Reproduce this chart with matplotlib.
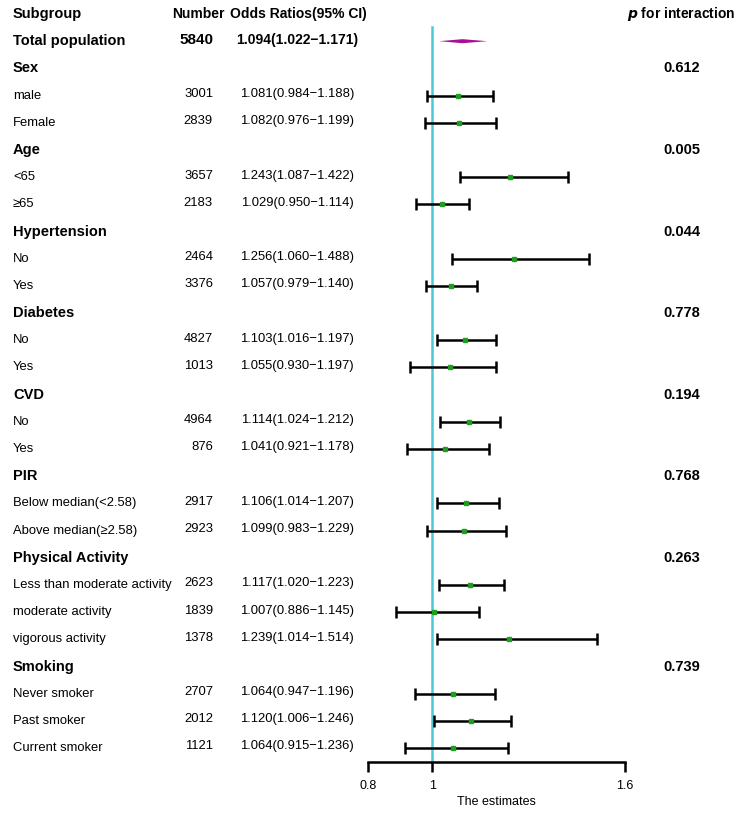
import matplotlib.pyplot as plt
import matplotlib.transforms as mtransforms
import numpy as np

plt.rcParams['font.family'] = ['Liberation Sans', 'DejaVu Sans']

# rows of the table (headers have n = None)
labels = ["Total population", "Sex", "male", "Female", "Age", "<65", "\u226565",
          "Hypertension", "No", "Yes", "Diabetes", "No", "Yes", "CVD", "No", "Yes",
          "PIR", "Below median(<2.58)", "Above median(\u22652.58)",
          "Physical Activity", "Less than moderate activity", "moderate activity",
          "vigorous activity", "Smoking", "Never smoker", "Past smoker", "Current smoker"]
n = [5840, None, 3001, 2839, None, 3657, 2183, None, 2464, 3376, None, 4827, 1013,
     None, 4964, 876, None, 2917, 2923, None, 2623, 1839, 1378, None, 2707, 2012, 1121]
odds = [1.094, None, 1.081, 1.082, None, 1.243, 1.029, None, 1.256, 1.057, None, 1.103, 1.055,
        None, 1.114, 1.041, None, 1.106, 1.099, None, 1.117, 1.007, 1.239, None, 1.064, 1.120, 1.064]
lower = [1.022, None, 0.984, 0.976, None, 1.087, 0.950, None, 1.060, 0.979, None, 1.016, 0.930,
         None, 1.024, 0.921, None, 1.014, 0.983, None, 1.020, 0.886, 1.014, None, 0.947, 1.006, 0.915]
upper = [1.171, None, 1.188, 1.199, None, 1.422, 1.114, None, 1.488, 1.140, None, 1.197, 1.197,
         None, 1.212, 1.178, None, 1.207, 1.229, None, 1.223, 1.145, 1.514, None, 1.196, 1.246, 1.236]
p_inter = [None, "0.612", None, None, "0.005", None, None, "0.044", None, None, "0.778", None, None,
           "0.194", None, None, "0.768", None, None, "0.263", None, None, None, "0.739", None, None, None]
xticks = [0.8, 1, 1.6]

W, H = 741, 813
fig = plt.figure(figsize=(W / 100, H / 100), dpi=100)

row0 = 14.0      # pixel y of header row
step = 27.19     # pixel spacing of rows
axis_px = 762.0  # pixel y of x axis line
x0, x1 = 368.0, 625.0

ax = fig.add_axes([x0 / W, 1 - axis_px / H, (x1 - x0) / W, axis_px / H])
ax.set_xlim(0.8, 1.6)
ax.set_ylim((axis_px - row0) / step, -row0 / step)

rows = np.arange(1, len(labels) + 1)
tr = mtransforms.blended_transform_factory(fig.transFigure, ax.transData)

def fx(px):
    return px / W

fs_small = 9.4
fs_bold = 10.5
fs_head = 10.0

# header
ax.text(fx(13), 0, "Subgroup", transform=tr, ha="left", va="center", fontsize=fs_bold, fontweight="bold", clip_on=False)
ax.text(fx(225), 0, "Number", transform=tr, ha="right", va="center", fontsize=fs_head, fontweight="bold", clip_on=False)
ax.text(fx(367), 0, "Odds Ratios(95% CI)", transform=tr, ha="right", va="center", fontsize=fs_head, fontweight="bold", clip_on=False)
ax.text(fx(735), 0, r"$\bfit{p}$" + " for interaction", transform=tr, ha="right", va="center",
        fontsize=fs_head, fontweight="bold", clip_on=False)

for i, r in enumerate(rows):
    header = n[i] is None
    bold = header or i == 0
    ax.text(fx(13), r, labels[i], transform=tr, ha="left", va="center",
            fontsize=fs_bold if bold else fs_small, fontweight="bold" if bold else "normal", clip_on=False)
    if not header:
        ax.text(fx(213), r - 0.06, str(n[i]), transform=tr, ha="right", va="center",
                fontsize=11 if i == 0 else fs_small, fontweight="bold" if i == 0 else "normal", clip_on=False)
        s = f"{odds[i]:.3f}({lower[i]:.3f}\u2212{upper[i]:.3f})"
        ax.text(fx(297), r - 0.06, s, transform=tr, ha="center", va="center",
                fontsize=10.0 if i == 0 else fs_small, fontweight="bold" if i == 0 else "normal", clip_on=False)
    if p_inter[i] is not None:
        ax.text(fx(682), r, p_inter[i], transform=tr, ha="center", va="center",
                fontsize=fs_bold, fontweight="bold", clip_on=False)

# reference line
ax.plot([1, 1], [ax.get_ylim()[0], 0.48], color="#4CC9D8", lw=1.8, zorder=1, clip_on=False)

# overall diamond
h = 0.075
ax.fill([lower[0], odds[0], upper[0], odds[0]], [rows[0], rows[0] - h, rows[0], rows[0] + h],
        color="#A8109A", lw=0, zorder=3)

# subgroup estimates
idx = [i for i in range(1, len(labels)) if n[i] is not None]
o = np.array([odds[i] for i in idx])
lo = np.array([lower[i] for i in idx])
hi = np.array([upper[i] for i in idx])
ax.errorbar(o, rows[idx], xerr=[o - lo, hi - o], fmt="s", color="#1E9E1E", ms=3.5,
            ecolor="black", elinewidth=1.8, capsize=4, capthick=1.8, zorder=3)

for sp in ["top", "right", "left"]:
    ax.spines[sp].set_visible(False)
ax.spines["bottom"].set_linewidth(1.8)
ax.set_yticks([])
ax.set_xticks(xticks)
ax.set_xticklabels(["0.8", "1", "1.6"])
ax.tick_params(axis="x", length=7, width=1.8, labelsize=9, pad=6)
ax.set_xlabel("The estimates", fontsize=9, labelpad=3)
ax.patch.set_visible(False)

fig.savefig("out.png", dpi=100)
